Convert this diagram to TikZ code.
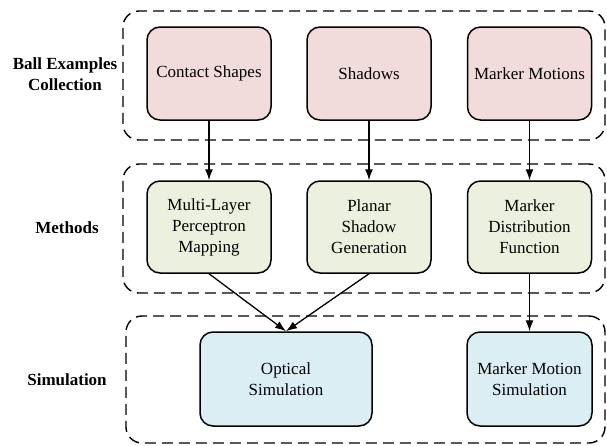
\documentclass[tikz,border=0pt]{standalone}
\usepackage{fontspec}
\setmainfont{LiberationSerif}[Extension=.ttf, UprightFont=*-Regular, BoldFont=*-Bold, ItalicFont=*-Italic, BoldItalicFont=*-BoldItalic]
\usetikzlibrary{arrows.meta}
\definecolor{redfill}{HTML}{F2DCDB}
\definecolor{greenfill}{HTML}{EBF1DE}
\definecolor{bluefill}{HTML}{DBEEF4}
\begin{document}
\begin{tikzpicture}[x=1pt,y=-1pt,
  every node/.style={font=\rmfamily\fontsize{17}{21}\selectfont},
  box/.style={draw=black, line width=1.5pt, rounded corners=13pt, align=center, inner sep=2pt},
  redbox/.style={box, fill=redfill, minimum width=124pt, minimum height=93pt},
  greenbox/.style={box, fill=greenfill, minimum width=124pt, minimum height=92pt},
  bluebox/.style={box, fill=bluefill, minimum height=94pt},
  group/.style={draw=black, line width=1.4pt, dash pattern=on 11pt off 6pt, rounded corners=16pt, inner sep=0pt},
  grouplabel/.style={font=\rmfamily\fontsize{17}{21}\selectfont\bfseries, align=center},
  arr/.style={-{Latex[length=11pt,width=8pt]}, line width=1.3pt}
]
\useasboundingbox (0,0) rectangle (607,445);
% group frames
\node[group, minimum width=482pt, minimum height=129pt] (g1) at (364,75.5) {};
\node[group, minimum width=482pt, minimum height=129pt] (g2) at (364,228.5) {};
\node[group, minimum width=479pt, minimum height=127pt] (g3) at (365.5,379.5) {};
% group labels
\node[grouplabel] (l1) at (65,74) {Ball Examples\\Collection};
\node[grouplabel] (l2) at (67,228) {Methods};
\node[grouplabel] (l3) at (67,380) {Simulation};
% row 1
\node[redbox] (cs) at (209,73.5) {Contact Shapes};
\node[redbox] (sh) at (369,73.5) {Shadows};
\node[redbox] (mm) at (529.5,73.5) {Marker Motions};
% row 2
\node[greenbox] (mlp) at (209,227) {Multi-Layer\\Perceptron\\Mapping};
\node[greenbox] (psg) at (369,227) {Planar\\Shadow\\Generation};
\node[greenbox] (mdf) at (529.5,227) {Marker\\Distribution\\Function};
% row 3
\node[bluebox, minimum width=172pt] (os) at (286,379) {Optical\\Simulation};
\node[bluebox, minimum width=125pt] (mms) at (529.5,379) {Marker Motion\\Simulation};
% connectors
\draw[arr] (cs.south) -- (mlp.north);
\draw[arr] (sh.south) -- (psg.north);
\draw[arr] (mm.south) -- (mdf.north);
\draw[arr] (mlp.south) -- (os.north);
\draw[arr] (psg.south) -- (os.north);
\draw[arr] (mdf.south) -- (mms.north);
\end{tikzpicture}
\end{document}
